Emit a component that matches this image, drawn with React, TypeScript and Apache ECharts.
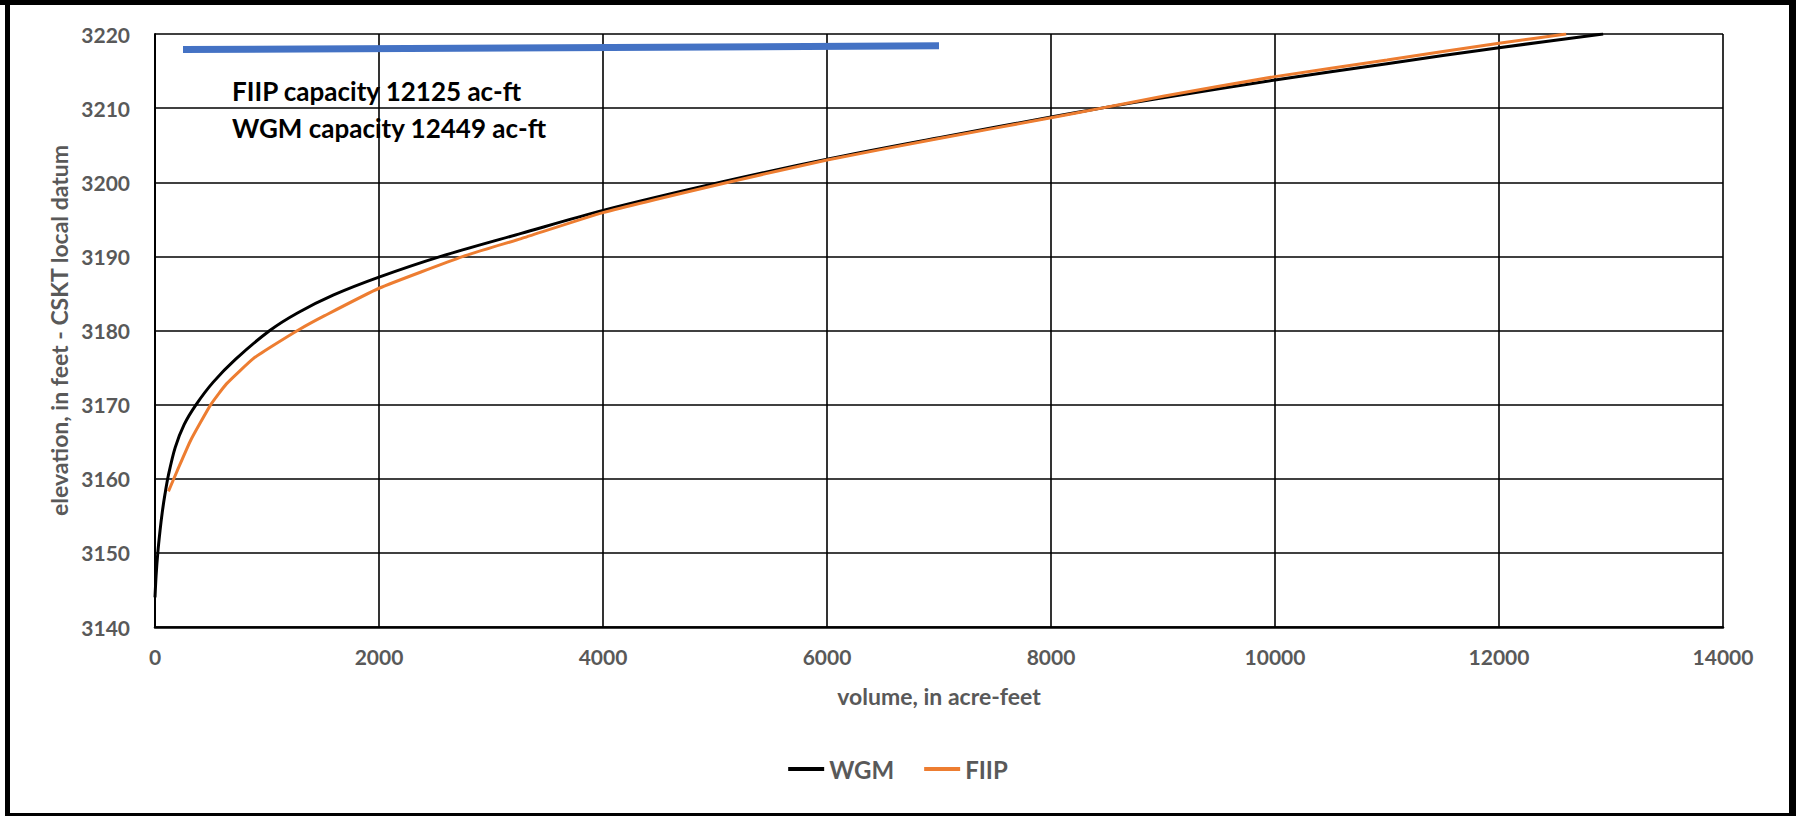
import React, { useEffect, useRef } from "react";
import * as echarts from "echarts";

// ---- data ----
const wgmVolume = [0, 10, 25, 45, 65, 90, 120, 180, 260, 367, 518, 718, 1025, 1276, 1595, 2000, 2552, 3270, 4000, 5050, 6000, 7000, 8000, 8450, 9000, 10000, 11000, 12000, 12930];
const wgmElevation = [3144, 3147, 3150, 3153, 3155.5, 3158, 3160.5, 3164.2, 3167.3, 3170, 3173, 3176.1, 3180, 3182.4, 3184.8, 3187.2, 3190, 3193.1, 3196.2, 3200, 3203.1, 3206, 3208.8, 3210, 3211.4, 3213.8, 3216, 3218.15, 3220];

const fiipVolume = [120, 199, 319, 498, 638, 877, 1037, 1296, 1515, 2000, 2752, 3270, 4000, 5120, 6000, 7000, 8000, 8450, 9000, 10000, 11000, 12000, 12600];
const fiipElevation = [3158.3, 3161.1, 3165.2, 3170, 3172.8, 3176.2, 3177.8, 3180.2, 3182.0, 3185.7, 3190, 3192.4, 3195.9, 3200, 3203.0, 3205.9, 3208.7, 3210, 3211.6, 3214.25, 3216.5, 3218.75, 3220];

const capacityVolume = [250, 7000];
const capacityElevation = [3217.9, 3218.4];

const annotationLines = ["FIIP capacity 12125 ac-ft", "WGM capacity 12449 ac-ft"];
const seriesNames = ["WGM", "FIIP"];
const xAxisTitle = "volume, in acre-feet";
const yAxisTitle = "elevation, in feet - CSKT local datum";

const pairs = (xs: number[], ys: number[]) => xs.map((x, i) => [x, ys[i]]);

const FONT = "Lato";
const GRAY = "#595959";

export default function App() {
  const ref = useRef<HTMLDivElement>(null);

  useEffect(() => {
    if (!ref.current) return;
    const chart = echarts.init(ref.current, undefined, { renderer: "svg" });
    chart.setOption({
      animation: false,
      backgroundColor: "#ffffff",
      textStyle: { fontFamily: FONT },
      grid: { left: 155, right: 73, top: 34, bottom: 189, containLabel: false },
      xAxis: {
        type: "value",
        min: 0,
        max: 14000,
        interval: 2000,
        name: xAxisTitle,
        nameLocation: "middle",
        nameGap: 57,
        nameTextStyle: { color: GRAY, fontSize: 23, fontWeight: "bold", fontFamily: FONT },
        axisLine: { show: true, onZero: false, lineStyle: { color: "#000", width: 2.5 } },
        axisTick: { show: false },
        axisLabel: {
          color: GRAY,
          fontSize: 21,
          fontWeight: "bold",
          margin: 19,
          fontFamily: FONT,
          formatter: (v: number) => String(v),
        },
        splitLine: { show: true, lineStyle: { color: "#000", width: 1.6 } },
      },
      yAxis: {
        type: "value",
        min: 3140,
        max: 3220,
        interval: 10,
        name: yAxisTitle,
        nameLocation: "middle",
        nameGap: 72,
        nameRotate: 90,
        nameTextStyle: { color: GRAY, fontSize: 23, fontWeight: "bold", fontFamily: FONT },
        axisLine: { show: true, onZero: false, lineStyle: { color: "#000", width: 2 } },
        axisTick: { show: false },
        axisLabel: {
          color: GRAY,
          fontSize: 21,
          fontWeight: "bold",
          margin: 25,
          fontFamily: FONT,
          formatter: (v: number) => String(v),
        },
        splitLine: { show: true, lineStyle: { color: "#000", width: 1.6 } },
      },
      legend: {
        data: seriesNames,
        left: "center",
        top: 752,
        icon: "rect",
        itemWidth: 36,
        itemHeight: 4,
        itemGap: 30,
        textStyle: { color: GRAY, fontSize: 24, fontWeight: "bold", fontFamily: FONT },
      },
      series: [
        {
          name: seriesNames[0],
          type: "line",
          data: pairs(wgmVolume, wgmElevation),
          showSymbol: false,
          smooth: 0.3,
          color: "#000000",
          lineStyle: { color: "#000000", width: 3 },
          z: 3,
        },
        {
          name: seriesNames[1],
          type: "line",
          data: pairs(fiipVolume, fiipElevation),
          showSymbol: false,
          smooth: 0.15,
          color: "#ED7D31",
          lineStyle: { color: "#ED7D31", width: 3 },
          z: 4,
        },
        {
          name: "capacity",
          type: "line",
          data: pairs(capacityVolume, capacityElevation),
          showSymbol: false,
          color: "#4472C4",
          lineStyle: { color: "#4472C4", width: 7, cap: "butt" },
          z: 5,
        },
      ],
      graphic: [
        {
          type: "group",
          z: 100,
          children: [
            { type: "rect", shape: { x: 213, y: 63, width: 400, height: 93 }, style: { fill: "#ffffff" } },
            {
              type: "text",
              x: 232,
              y: 91,
              style: { text: annotationLines[0], fill: "#000", font: `bold 26px ${FONT}`, textVerticalAlign: "middle" },
            },
            {
              type: "text",
              x: 232,
              y: 128,
              style: { text: annotationLines[1], fill: "#000", font: `bold 26px ${FONT}`, textVerticalAlign: "middle" },
            },
          ],
        },
        { type: "rect", z: 100, shape: { x: 0, y: 0, width: 1796, height: 5 }, style: { fill: "#000" } },
        { type: "rect", z: 100, shape: { x: 5, y: 0, width: 5, height: 816 }, style: { fill: "#000" } },
        { type: "rect", z: 100, shape: { x: 1789, y: 0, width: 7, height: 816 }, style: { fill: "#000" } },
        { type: "rect", z: 100, shape: { x: 5, y: 813, width: 1791, height: 3 }, style: { fill: "#000" } },
      ],
    });
    return () => chart.dispose();
  }, []);

  return (
    <div
      ref={ref}
      style={{ position: "fixed", left: 0, top: 0, width: 1796, height: 816, background: "#fff" }}
    />
  );
}
